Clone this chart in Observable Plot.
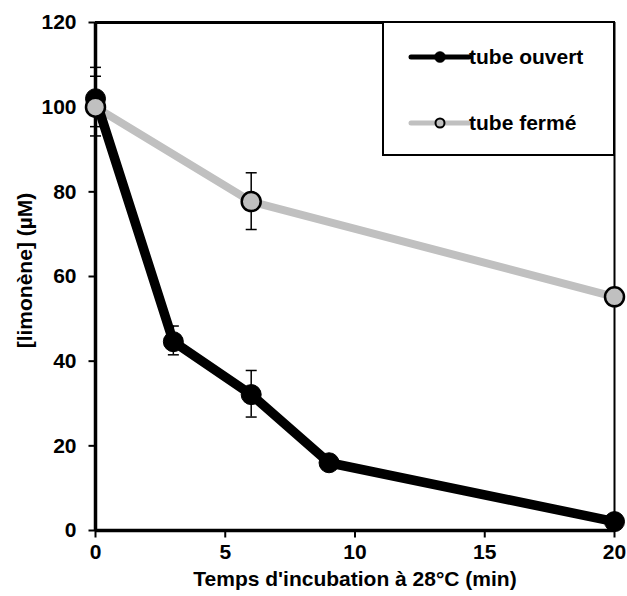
<!DOCTYPE html>
<html>
<head>
<meta charset="utf-8">
<script src="https://cdn.jsdelivr.net/npm/d3@7"></script>
<script src="https://cdn.jsdelivr.net/npm/@observablehq/plot@0.6"></script>
<style>
  html, body { margin: 0; padding: 0; background: white; }
  #wrap { position: relative; width: 627px; height: 596px; }
  #legend { position: absolute; left: 382px; top: 21px; width: 233px; height: 135px;
            box-sizing: border-box; border: 2.5px solid black; background: white; }
</style>
</head>
<body>
<div id="wrap"><div id="legend"></div></div>
<script>
// ---- data ----
const seriesNames = ["tube ouvert", "tube fermé"];
const seriesColors = ["#000000", "#c0c0c0"];

const ouvertTime = [0, 3, 6, 9, 20];
const ouvertValue = [102, 44.6, 32.1, 16, 2.1];
const ouvertLow = [93.2, 41.5, 26.8, null, null];
const ouvertHigh = [109.4, 48.3, 37.8, null, null];

const fermeTime = [0, 6, 20];
const fermeValue = [100, 77.7, 55.2];
const fermeLow = [95.4, 71.1, null];
const fermeHigh = [107.3, 84.5, null];

const xTicks = [0, 5, 10, 15, 20];
const yTicks = [0, 20, 40, 60, 80, 100, 120];
const xDomain = [0, 20];
const yDomain = [0, 120];
const xTitle = "Temps d'incubation à 28°C (min)";
const yTitle = "[limonène] (µM)";

// ---- tables ----
const ouvert = ouvertTime.map((t, i) => ({t, v: ouvertValue[i], lo: ouvertLow[i], hi: ouvertHigh[i]}));
const ferme = fermeTime.map((t, i) => ({t, v: fermeValue[i], lo: fermeLow[i], hi: fermeHigh[i]}));
const errs = [...ouvert, ...ferme].filter(d => d.lo != null);

const capSymbol = { draw(ctx) { ctx.moveTo(-5.5, 0); ctx.lineTo(5.5, 0); } };
const yTickSymbol = { draw(ctx) { ctx.moveTo(-7, 0); ctx.lineTo(0, 0); } };
const xTickSymbol = { draw(ctx) { ctx.moveTo(0, 0); ctx.lineTo(0, 7); } };

const font = "'Liberation Sans', Arial, Helvetica, sans-serif";

const chart = Plot.plot({
  width: 627, height: 596,
  marginLeft: 95, marginRight: 13, marginTop: 22, marginBottom: 66,
  x: {domain: xDomain, axis: null},
  y: {domain: yDomain, axis: null},
  style: {fontFamily: font, fontWeight: "bold", fontSize: "21px", background: "white", overflow: "visible", color: "black"},
  marks: [
    // ticks and tick labels
    Plot.dot(yTicks, {y: d => d, frameAnchor: "left", symbol: yTickSymbol, fill: "none", stroke: "black", strokeWidth: 2}),
    Plot.dot(xTicks, {x: d => d, frameAnchor: "bottom", symbol: xTickSymbol, fill: "none", stroke: "black", strokeWidth: 2}),
    Plot.text(yTicks, {y: d => d, text: d => String(d), frameAnchor: "left", textAnchor: "end", dx: -19, fontSize: 21, fontWeight: "bold", fill: "black"}),
    Plot.text(xTicks, {x: d => d, text: d => String(d), frameAnchor: "bottom", lineAnchor: "top", dy: 14, fontSize: 21, fontWeight: "bold", fill: "black"}),
    // frame
    Plot.ruleY([yDomain[1]], {strokeWidth: 3}),
    Plot.ruleX([xDomain[1]], {strokeWidth: 2}),
    Plot.ruleY([yDomain[0]], {strokeWidth: 3.5}),
    Plot.ruleX([xDomain[0]], {strokeWidth: 3.5}),
    // series
    Plot.line(ferme, {x: "t", y: "v", stroke: seriesColors[1], strokeWidth: 8}),
    Plot.line(ouvert, {x: "t", y: "v", stroke: seriesColors[0], strokeWidth: 9.5}),
    Plot.ruleX(errs, {x: "t", y1: "lo", y2: "hi", stroke: "black", strokeWidth: 1.5}),
    Plot.dot(errs, {x: "t", y: "lo", symbol: capSymbol, fill: "none", stroke: "black", strokeWidth: 1.5}),
    Plot.dot(errs, {x: "t", y: "hi", symbol: capSymbol, fill: "none", stroke: "black", strokeWidth: 1.5}),
    Plot.dot(ouvert, {x: "t", y: "v", r: 10, fill: seriesColors[0], stroke: "black", strokeWidth: 1}),
    Plot.dot(ferme, {x: "t", y: "v", r: 9.5, fill: seriesColors[1], stroke: "black", strokeWidth: 2.5}),
    // titles
    Plot.text([xTitle], {frameAnchor: "bottom", dy: 55, fontSize: 21, fontWeight: "bold", fill: "black"}),
    Plot.text([yTitle], {frameAnchor: "left", textAnchor: "middle", dx: -70, dy: -6, rotate: -90, fontSize: 21, fontWeight: "bold", fill: "black"})
  ]
});
document.getElementById("wrap").prepend(chart);

// ---- legend ----
const lg = d3.select("#legend").append("svg").attr("width", 228).attr("height", 130)
  .style("position", "absolute").style("left", "0px").style("top", "0px");
const rowsY = [34, 100];
seriesNames.forEach((name, i) => {
  const g = lg.append("g").attr("transform", `translate(0,${rowsY[i]})`);
  g.append("line").attr("x1", 27).attr("x2", 85).attr("y1", 0).attr("y2", 0)
    .attr("stroke", seriesColors[i]).attr("stroke-width", 5).attr("stroke-linecap", "round");
  g.append("circle").attr("cx", 56).attr("cy", 0).attr("r", i === 0 ? 5.5 : 4.5)
    .attr("fill", seriesColors[i]).attr("stroke", "black").attr("stroke-width", i === 0 ? 0.5 : 2);
  g.append("text").attr("x", 85).attr("y", 7).text(name)
    .style("font-family", font).style("font-weight", "bold").style("font-size", "21px").attr("fill", "black");
});
</script>
</body>
</html>
